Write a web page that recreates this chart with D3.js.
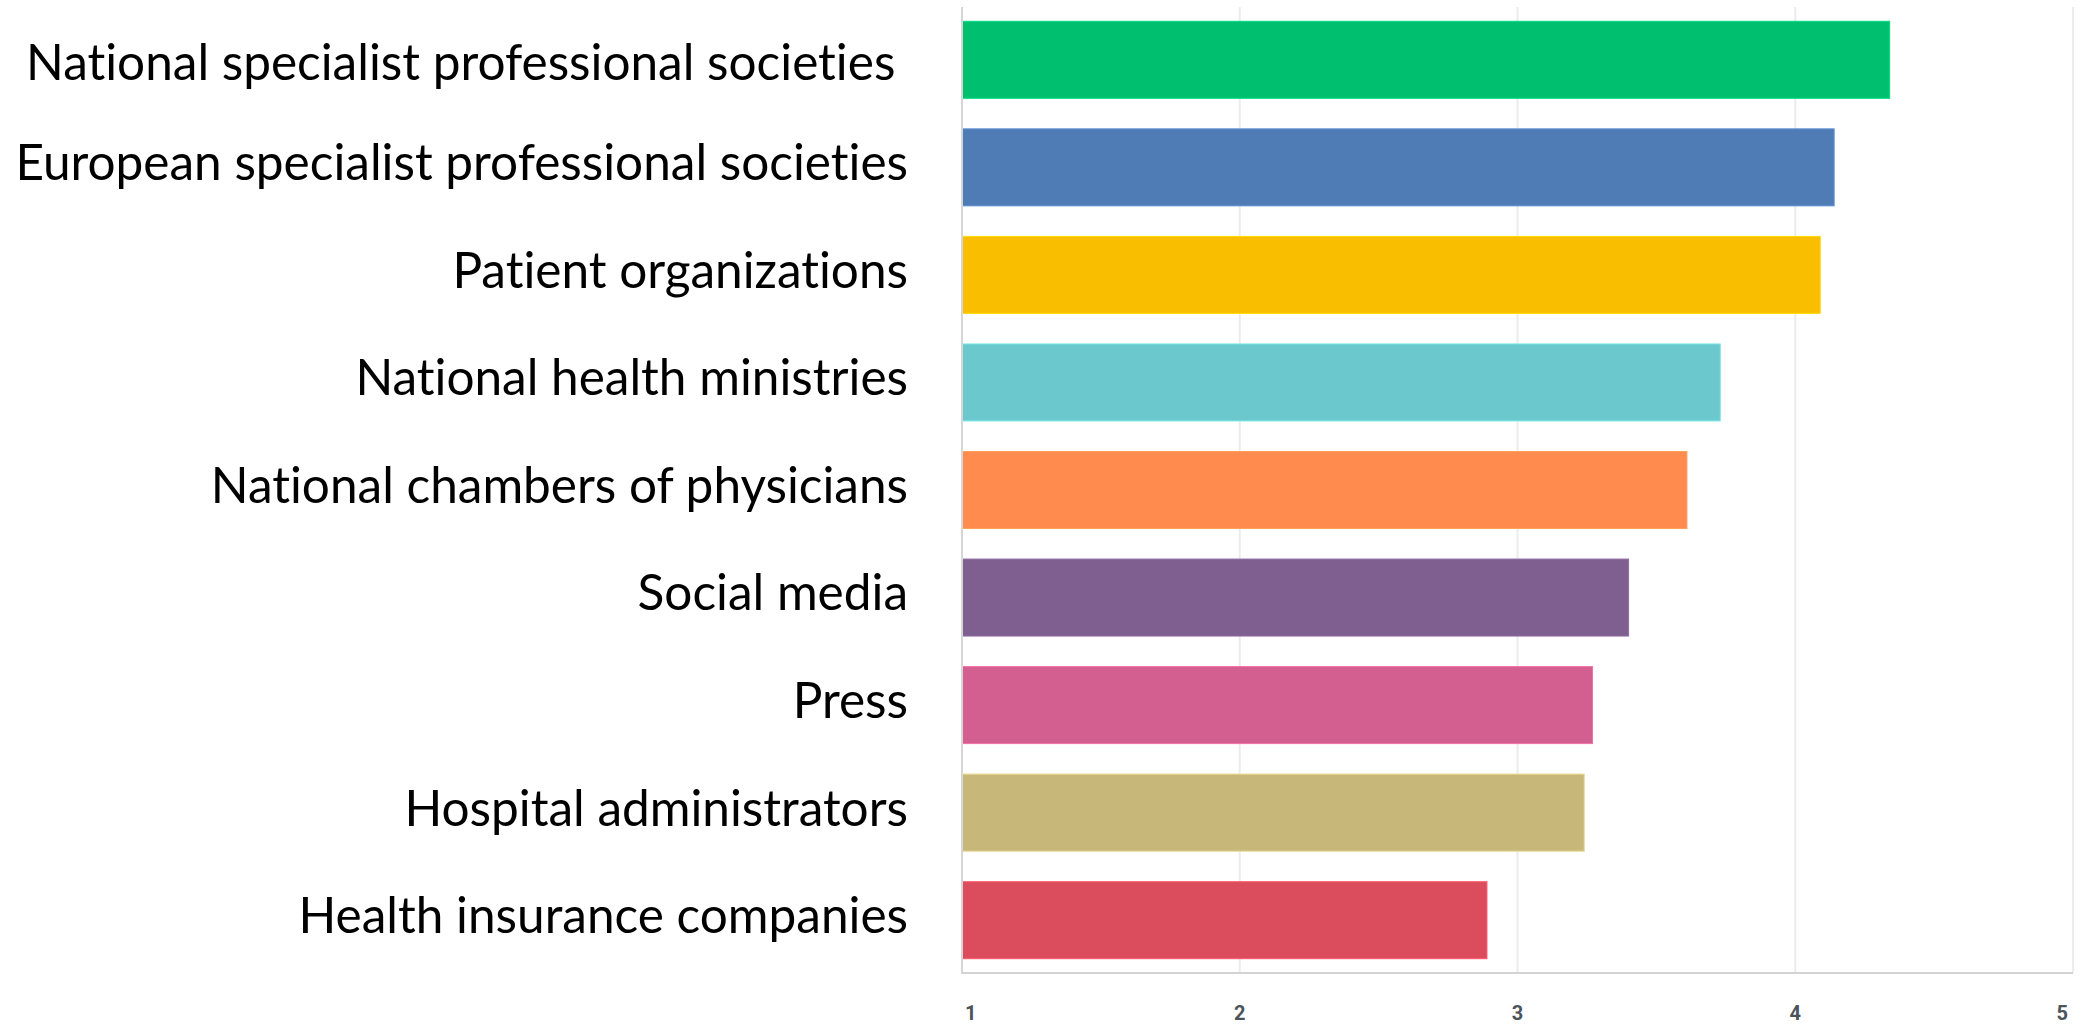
<!DOCTYPE html>
<html>
<head>
<meta charset="utf-8">
<script src="https://cdn.jsdelivr.net/npm/d3@7"></script>
<style>
  html, body { margin: 0; padding: 0; background: #ffffff; }
  svg { display: block; }
  .cat { white-space: pre; font-variant-ligatures: none; font-feature-settings: "liga" 0, "clig" 0; }
</style>
</head>
<body>
<svg id="chart" width="2092" height="1024"></svg>
<script>
// ---- data ----
const categories = [
  "National specialist professional societies ",
  "European specialist professional societies",
  "Patient organizations",
  "National health ministries",
  "National chambers of physicians",
  "Social media",
  "Press",
  "Hospital administrators",
  "Health insurance companies"
];
const values = [4.34, 4.14, 4.09, 3.73, 3.61, 3.40, 3.27, 3.24, 2.89];
const colors = ["#00BF6F", "#507CB6", "#F9BE00", "#6BC8CD", "#FF8B4F", "#7F5F90", "#D25F90", "#C7B879", "#DB4D5C"];
const tickValues = [1, 2, 3, 4, 5];
const tickLabels = ["1", "2", "3", "4", "5"];

// ---- layout ----
const svg = d3.select("#chart");
const x = d3.scaleLinear().domain([1, 5]).range([962, 2073]);
const y = d3.scaleBand().domain(categories).range([7, 973]).paddingInner(0.284).paddingOuter(0.133);

// grid lines
svg.append("g").selectAll("line").data(tickValues.slice(1)).join("line")
  .attr("x1", d => x(d)).attr("x2", d => x(d))
  .attr("y1", 7).attr("y2", 973)
  .attr("stroke", "#ececec").attr("stroke-width", 2);

// bars
svg.append("g").selectAll("rect").data(values).join("rect")
  .attr("x", x(1))
  .attr("y", (d, i) => y(categories[i]))
  .attr("width", d => x(d) - x(1))
  .attr("height", y.bandwidth())
  .attr("fill", (d, i) => colors[i])
  .attr("stroke", (d, i) => d3.color(colors[i]).brighter(0.4))
  .attr("stroke-width", 1);

// left axis line and bottom line
svg.append("line")
  .attr("x1", x(1)).attr("x2", x(1)).attr("y1", 7).attr("y2", 974)
  .attr("stroke", "#d6d6d6").attr("stroke-width", 2);
svg.append("line")
  .attr("x1", x(1)).attr("x2", x(5)).attr("y1", 973).attr("y2", 973)
  .attr("stroke", "#d3d3d3").attr("stroke-width", 2);

// category labels, fitted to the reference width
const labels = svg.append("g").selectAll("text").data(categories).join("text")
  .attr("class", "cat")
  .attr("x", 908)
  .attr("y", d => y(d) + y.bandwidth() / 2)
  .attr("text-anchor", "end")
  .attr("font-family", "Lato, 'Open Sans', sans-serif")
  .attr("font-size", 100)
  .attr("fill", "#000")
  .text(d => d);
const longest = labels.filter((d, i) => i === 1).node().getComputedTextLength();
const fs = 100 * 893 / longest;
// first label sits a little lower in the original picture
labels.attr("font-size", fs).attr("dy", (d, i) => (0.26 * fs + (i === 0 ? 7 : 0)) + "px");

// tick labels
svg.append("g").selectAll("text").data(tickValues).join("text")
  .attr("x", d => x(d) + (d === 1 ? 3 : d === 5 ? -5 : 0))
  .attr("y", 1013)
  .attr("dy", "0.35em")
  .attr("text-anchor", (d, i) => i === 0 ? "start" : i === tickValues.length - 1 ? "end" : "middle")
  .attr("font-family", "Roboto, 'Liberation Sans', sans-serif")
  .attr("font-weight", "bold")
  .attr("font-size", 20)
  .attr("fill", "#4c545b")
  .text((d, i) => tickLabels[i]);
</script>
</body>
</html>
